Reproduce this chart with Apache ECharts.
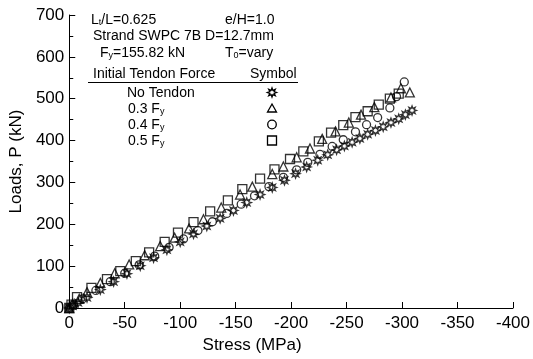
<!DOCTYPE html>
<html><head><meta charset="utf-8">
<script src="https://cdn.jsdelivr.net/npm/echarts@6/dist/echarts.min.js"></script>
<style>html,body{margin:0;padding:0;background:#fff}#c{width:533px;height:359px}</style>
</head><body><div id="c"></div>
<script>
// No Tendon
const stressNone = [0,-3,-8,-16,-28,-40,-52,-64,-76,-88,-100,-112,-124,-136,-148,-160,-172,-183,-194,-204,-214,-224,-233,-241,-248,-255,-262,-269,-276,-283,-290,-297,-303,-309];
const loadNone   = [0,5,13,25,44,63,82,101,120,139,158,177,196,214,233,252,271,288,305,321,337,353,366,378,387,396,405,415,424,433,443,452,462,472];
// 0.3 Fy
const stress03 = [0,-3,-9,-16,-28,-41,-54,-68,-82,-95,-108,-121,-137,-154,-165,-183,-193,-205,-217,-228,-240,-252,-263,-275,-290,-299,-307];
const load03   = [0,10,22,38,60,83,104,126,148,168,190,212,240,271,290,320,338,360,381,404,422,443,462,480,503,525,515];
// 0.4 Fy
const stress04 = [0,-4,-12,-24,-37,-50,-63,-77,-90,-103,-116,-129,-142,-155,-167,-180,-193,-205,-215,-226,-237,-247,-258,-268,-278,-289,-295,-302];
const load04   = [0,8,22,42,63,83,103,124,145,165,185,206,226,248,268,290,312,330,348,367,386,402,421,438,455,478,505,540];
// 0.5 Fy
const stress05 = [0,-2,-7,-20,-34,-46,-60,-72,-86,-98,-112,-127,-143,-156,-172,-185,-199,-211,-225,-236,-247,-258,-269,-279,-289,-297];
const load05   = [0,8,26,48,69,88,112,133,158,180,205,231,257,284,309,331,356,374,398,419,437,456,470,486,500,512];

const seriesNames = ['No Tendon','0.3 Fy','0.4 Fy','0.5 Fy'];

const starPath = 'path://M10 0 L4.62 1.91 L7.07 7.07 L1.91 4.62 L0 10 L-1.91 4.62 L-7.07 7.07 L-4.62 1.91 L-10 0 L-4.62 -1.91 L-7.07 -7.07 L-1.91 -4.62 L0 -10 L1.91 -4.62 L7.07 -7.07 L4.62 -1.91 Z';
function starPoints(cx, cy, R){
  const pts = [];
  for (let k = 0; k < 16; k++) {
    const a = k * Math.PI / 8, r = (k % 2 === 0) ? R : R / 2;
    pts.push([cx + r * Math.cos(a), cy + r * Math.sin(a)]);
  }
  return pts;
}

function pairs(xs, ys){ return xs.map((x,i)=>[x, ys[i]]); }
const FONT = 'Liberation Sans, Arial, sans-serif';
const hollow = {color:'rgba(0,0,0,0)', borderColor:'#000', borderWidth:1.3};

const chart = echarts.init(document.getElementById('c'));
const sub = {fontSize:9, fontFamily:FONT, verticalAlign:'bottom', padding:[5,0,0,0], color:'#000'};
const txt = (x,y,t)=>({type:'text', left:x, top:y, style:{text:t, fill:'#000', fontSize:14, fontFamily:FONT, rich:{s:sub, n:{fontSize:14, fontFamily:FONT, color:'#000'}}}});
chart.setOption({
  animation:false,
  grid:{left:67, right:18, top:15, bottom:50},
  xAxis:{type:'value', min:-400, max:0, interval:50, inverse:true,
    name:'Stress (MPa)', nameLocation:'middle', nameGap:29,
    nameTextStyle:{fontSize:17, fontFamily:FONT, color:'#000', padding:[0,78,0,0]},
    axisLine:{lineStyle:{color:'#000', width:1}}, axisTick:{inside:true, length:6, lineStyle:{color:'#000'}},
    axisLabel:{fontSize:17, fontFamily:FONT, color:'#000', margin:7}, splitLine:{show:false}},
  yAxis:{type:'value', min:0, max:700, interval:100,
    name:'Loads, P (kN)', nameLocation:'middle', nameGap:38,
    nameTextStyle:{fontSize:17, fontFamily:FONT, color:'#000'},
    axisLine:{show:true, lineStyle:{color:'#000', width:1}}, axisTick:{show:true, inside:true, length:6, lineStyle:{color:'#000'}},
    minorTick:{show:true, splitNumber:2, length:4, lineStyle:{color:'#000'}},
    axisLabel:{fontSize:17, fontFamily:FONT, color:'#000', margin:5}, splitLine:{show:false}},
  series:[
    {name:seriesNames[0], type:'scatter', symbol:starPath, symbolSize:9, itemStyle:hollow, data:pairs(stressNone, loadNone)},
    {name:seriesNames[1], type:'scatter', symbol:'triangle', symbolSize:9, itemStyle:hollow, data:pairs(stress03, load03)},
    {name:seriesNames[2], type:'scatter', symbol:'circle', symbolSize:8, itemStyle:hollow, data:pairs(stress04, load04)},
    {name:seriesNames[3], type:'scatter', symbol:'rect', symbolSize:9, itemStyle:hollow, data:pairs(stress05, load05)}
  ],
  graphic:[
    txt(91,13,'{n|L}{s|t}{n|/L=0.625}'),
    txt(225,13,'e/H=1.0'),
    txt(93,29,'Strand SWPC 7B D=12.7mm'),
    txt(100,46,'{n|F}{s|y}{n|=155.82 kN}'),
    txt(225,46,'{n|T}{s|0}{n|=vary}'),
    txt(93,67,'Initial Tendon Force'),
    txt(250,67,'Symbol'),
    {type:'line', shape:{x1:88, y1:82.5, x2:298, y2:82.5}, style:{stroke:'#000', lineWidth:1}},
    txt(127,86,'No Tendon'),
    txt(128,102,'{n|0.3 F}{s|y}'),
    txt(128,118,'{n|0.4 F}{s|y}'),
    txt(128,134,'{n|0.5 F}{s|y}'),
    {type:'polygon', shape:{points:starPoints(272, 92.5, 4.6)}, style:{fill:'none', stroke:'#000', lineWidth:1.3}},
    {type:'polygon', shape:{points:[[272,104],[276.5,112],[267.5,112]]}, style:{fill:'none', stroke:'#000', lineWidth:1.3}},
    {type:'circle', shape:{cx:272, cy:124.5, r:4.3}, style:{fill:'none', stroke:'#000', lineWidth:1.3}},
    {type:'rect', shape:{x:267.5, y:136, width:9, height:9}, style:{fill:'none', stroke:'#000', lineWidth:1.3}}
  ]
});
</script></body></html>
